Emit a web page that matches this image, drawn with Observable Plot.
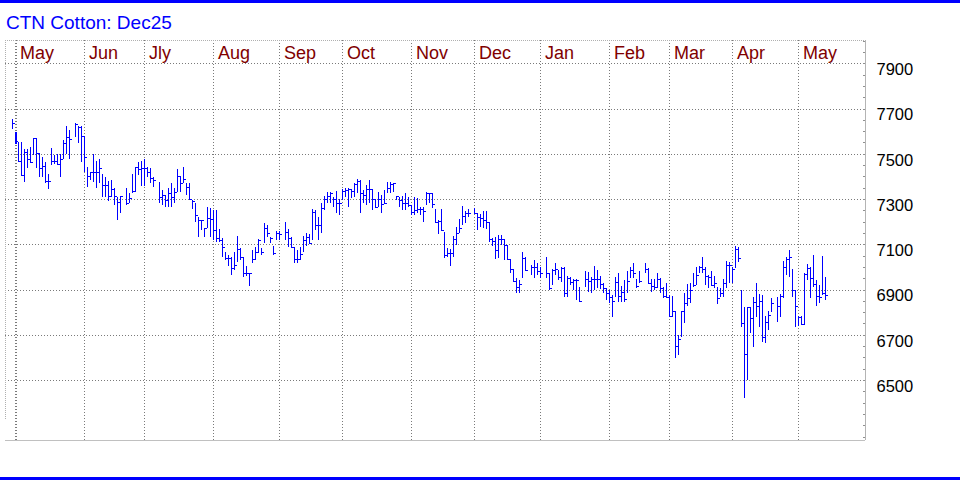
<!DOCTYPE html>
<html><head><meta charset="utf-8">
<script src="https://cdn.jsdelivr.net/npm/d3@7"></script>
<script src="https://cdn.jsdelivr.net/npm/@observablehq/plot@0.6"></script>
<style>
body{margin:0;background:#fff;}
#wrap{position:relative;width:960px;height:480px;overflow:hidden;font-family:Arial,"Liberation Sans",sans-serif;background:#fff;}
.band{position:absolute;left:0;width:960px;height:3px;background:#0000ff;}
#title{position:absolute;left:6px;top:13px;font-size:19px;line-height:19px;color:#0000ff;white-space:nowrap;}
#chart{position:absolute;left:0;top:0;}
</style></head>
<body>
<div id="wrap">
<div id="chart"></div>
<div class="band" style="top:0"></div>
<div id="title">CTN Cotton: Dec25</div>
<div class="band" style="top:477px"></div>
</div>
<script>
// ---- data (ICE cotton Dec25, daily high / low / close, points) ----
const firstDay = "2024-04-29";
const holidays = ["2024-05-27","2024-06-19","2024-07-04","2024-09-02","2024-11-28","2024-12-25","2025-01-01","2025-01-20","2025-02-17","2025-04-18"];
const high = [
7654,7596,7552,7552,7521,7521,7530,7570,7570,7504,
7486,7464,7411,7526,7495,7499,7499,7561,7623,7605,
7636,7623,7623,7579,7442,7420,7499,7468,7477,7411,
7397,7380,7384,7349,7309,7313,
7349,7327,7411,7442,7464,7468,7477,7442,7437,7397,
7375,7340,7318,7349,7371,7349,7433,7402,7442,7371,
7371,7296,7282,7221,7207,7172,7265,7260,7252,7252,
7168,7128,7066,7053,7044,7066,7137,7084,7044,7004,
6973,7075,7088,7123,7084,7194,7185,7132,7092,7159,7159,
7198,7168,7132,7088,7075,7088,7137,7150,7145,7256,
7252,7221,7282,7313,7331,7331,7309,7336,7300,7344,
7349,7349,7344,7371,7389,7384,7340,7362,7384,7344,
7300,7331,7318,7340,7375,7375,7371,7313,7309,7313,
7327,7309,7274,7309,7305,7265,7265,7331,7327,7327,
7256,7207,7256,7154,7084,7079,7137,7176,7212,7269,7247,7256,
7260,7238,7234,7247,7247,7198,7128,7132,7141,7141,
7123,7097,7035,6991,6951,6942,7066,7044,
7008,7030,7017,7000,
7044,6973,6991,7017,6986,7000,7000,6960,6955,6946,6946,6911,
6982,6977,6955,7004,6986,6960,6929,6907,6898,6876,
6955,6973,6916,6942,6982,7000,7017,6946,6982,
7017,6995,6946,6946,6973,6951,6911,6929,6876,6871,
6805,6699,6805,6885,6924,6929,6973,7000,7004,7044,
7000,6964,6982,6960,6911,6907,6946,7026,7022,7000,
7092,7088,6898,6823,6823,6823,6867,6929,6880,6876,
6783,6805,6863,
6867,6880,7026,7044,7075,6991,6898,6783,6783,6973,
7013,7000,7053,6942,6920,7048,6955];
const low = [
7610,7543,7464,7402,7375,7437,7459,7495,7437,7397,
7397,7371,7344,7450,7455,7455,7397,7477,7499,7477,
7574,7548,7464,7420,7353,7384,7375,7349,7371,7309,
7309,7291,7309,7274,7207,7238,
7274,7282,7327,7331,7406,7358,7358,7397,7371,7353,
7282,7274,7265,7265,7265,7282,7331,7331,7371,7318,
7296,7256,7198,7132,7163,7132,7172,7132,7119,7110,
7110,7044,7030,7004,6964,6986,7022,7030,6955,6960,
6916,7017,7030,7061,7053,7106,7132,7106,7053,7119,7119,
7119,7088,7088,7017,7017,7030,7066,7092,7101,7119,
7163,7119,7150,7252,7282,7282,7265,7238,7229,7296,
7309,7265,7305,7309,7327,7238,7282,7274,7282,7252,
7260,7265,7238,7282,7327,7327,7331,7296,7265,7252,
7252,7265,7229,7229,7238,7229,7198,7274,7282,7260,
7194,7145,7163,7039,7044,7004,7044,7097,7150,7185,7194,7221,
7234,7163,7176,7172,7168,7110,7092,7035,7039,7097,
7030,7030,6973,6938,6885,6885,6951,6986,
6964,6951,6964,6951,
6951,6898,6920,6964,6942,6933,6867,6867,6920,6898,6854,6849,
6911,6889,6885,6898,6907,6902,6885,6854,6840,6779,
6867,6845,6845,6845,6885,6951,6951,6907,6929,
6973,6929,6889,6898,6907,6885,6863,6863,6779,6779,
6597,6611,6690,6752,6827,6840,6911,6920,6973,6973,
6920,6907,6920,6907,6836,6867,6867,6907,6929,6929,
6995,7022,6734,6420,6500,6708,6646,6779,6734,6668,
6664,6721,6801,
6756,6779,6863,6964,6955,6867,6734,6739,6743,6743,
6942,6863,6911,6827,6840,6876,6854];
const close = [
7636,7557,7468,7406,7508,7477,7464,7570,7504,7437,
7446,7380,7380,7468,7468,7455,7477,7548,7574,7565,
7632,7618,7579,7486,7402,7420,7420,7420,7437,7362,
7362,7313,7344,7313,7287,7313,
7282,7305,7336,7442,7433,7437,7437,7420,7393,7384,
7309,7318,7296,7327,7309,7331,7402,7371,7389,7353,
7300,7291,7229,7207,7207,7172,7216,7212,7163,7128,
7119,7088,7039,7039,6995,7008,7079,7044,6973,6973,
6973,7035,7066,7119,7066,7172,7150,7128,7061,7150,7145,
7154,7128,7088,7035,7035,7057,7119,7132,7106,7243,
7185,7185,7260,7300,7313,7327,7300,7282,7282,7336,
7340,7344,7336,7366,7380,7327,7318,7344,7344,7300,
7265,7300,7278,7282,7349,7366,7371,7313,7296,7282,
7282,7274,7243,7252,7256,7256,7247,7327,7327,7278,
7198,7203,7163,7053,7061,7061,7123,7150,7172,7225,7238,7238,
7238,7221,7216,7207,7198,7123,7114,7075,7123,7123,
7097,7035,6991,6938,6911,6924,7039,6986,
7000,7000,6982,6973,
6973,6907,6986,6991,6955,6995,6885,6951,6933,6942,6942,6849,
6946,6938,6946,6946,6946,6924,6907,6885,6867,6849,
6933,6871,6889,6858,6938,6986,6973,6916,6938,
6991,6929,6916,6911,6946,6907,6871,6867,6783,6805,
6650,6681,6805,6840,6863,6898,6920,6964,7000,6991,
6960,6955,6920,6929,6863,6885,6929,7008,7008,6991,
7079,7039,6752,6615,6823,6774,6845,6827,6849,6690,
6756,6787,6840,
6827,6871,7000,7035,7044,6898,6827,6779,6748,6969,
6995,6951,6924,6871,6867,6885,6876];
const monthLabels = ["May","Jun","Jly","Aug","Sep","Oct","Nov","Dec","Jan","Feb","Mar","Apr","May"];
const monthStarts = ["2024-05-01","2024-06-01","2024-07-01","2024-08-01","2024-09-01","2024-10-01","2024-11-01","2024-12-01","2025-01-01","2025-02-01","2025-03-01","2025-04-01","2025-05-01"];
const priceTicks = [6500,6700,6900,7100,7300,7500,7700,7900];
const minorStep = 50;
const yDomain = [6235, 8003];

// ---- weekday index (x axis counts every weekday; holidays leave a gap) ----
const parse = s => new Date(s + "T00:00:00Z");
const t0 = parse(firstDay);
function weekdayIndex(date) { // weekdays in [t0, date)
  let n = 0; const d = new Date(t0);
  while (d < date) { const k = d.getUTCDay(); if (k !== 0 && k !== 6) n++; d.setUTCDate(d.getUTCDate() + 1); }
  return n;
}
const hol = new Set(holidays);
const bars = [];
{
  const d = new Date(t0); let w = 0, i = 0;
  while (i < close.length) {
    const k = d.getUTCDay();
    if (k !== 0 && k !== 6) {
      if (!hol.has(d.toISOString().slice(0, 10))) {
        bars.push({w, high: high[i], low: low[i], close: close[i]});
        i++;
      }
      w++;
    }
    d.setUTCDate(d.getUTCDate() + 1);
  }
}
const months = monthLabels.map((label, j) => ({label, w: weekdayIndex(parse(monthStarts[j])) - 1}));
const minor = d3.range(6250, 8001, minorStep);

const xDomain = [-2.5, 284.1667];
const blue = "#0000ff";
const chart = Plot.plot({
  width: 960, height: 480,
  marginTop: 40, marginBottom: 40, marginLeft: 5, marginRight: 95,
  x: {type: "linear", domain: xDomain, axis: null},
  y: {type: "linear", domain: yDomain, axis: null},
  style: {fontFamily: "Arial, 'Liberation Sans', sans-serif", background: "transparent", overflow: "visible"},
  marks: [
    Plot.ruleY(priceTicks, {stroke: "#7a7a7a", strokeDasharray: "1,2", shapeRendering: "crispEdges"}),
    Plot.ruleX(months, {x: "w", stroke: "#7a7a7a", strokeDasharray: "1,2", shapeRendering: "crispEdges"}),
    Plot.ruleY([yDomain[1]], {stroke: "#b0b0b0", strokeDasharray: "1,1", shapeRendering: "crispEdges"}),
    Plot.ruleX([xDomain[0]], {y1: yDomain[1], y2: 6323, stroke: "#b0b0b0", strokeDasharray: "1,1", shapeRendering: "crispEdges"}),
    Plot.ruleY([yDomain[0]], {stroke: "#c0c0c0", strokeWidth: 1.5, shapeRendering: "crispEdges"}),
    Plot.ruleX([xDomain[1]], {stroke: "#b4b4b4", shapeRendering: "crispEdges"}),
    Plot.ruleY(minor, {x1: xDomain[1] - 0.8, x2: xDomain[1], stroke: "#909090", shapeRendering: "crispEdges"}),
    Plot.ruleX(bars, {x: "w", y1: "low", y2: "high", stroke: blue, strokeWidth: 1, shapeRendering: "crispEdges"}),
    Plot.ruleY(bars, {y: "close", x1: d => d.w - 0.1667, x2: d => d.w + 0.8333, stroke: blue, strokeWidth: 1, shapeRendering: "crispEdges"}),
    Plot.text(months, {x: "w", text: "label", frameAnchor: "top", lineAnchor: "top", dx: 4, dy: 5.5, textAnchor: "start", fill: "#800000", fontSize: 18}),
    Plot.text(priceTicks, {y: d => d, text: d => String(d), frameAnchor: "right", dx: 11, dy: 6, textAnchor: "start", fill: "#000", fontSize: 16.5})
  ]
});
document.getElementById("chart").appendChild(chart);
</script>
</body></html>
